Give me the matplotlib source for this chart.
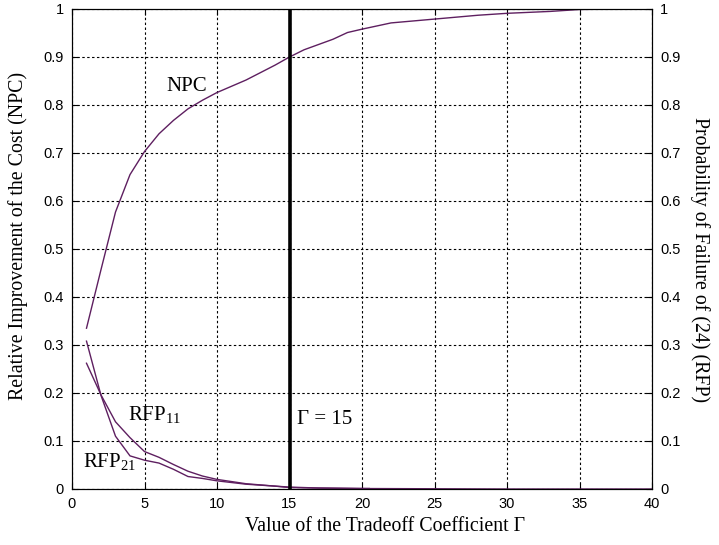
import numpy as np
import matplotlib
matplotlib.use('Agg')
import matplotlib.pyplot as plt

# values
gamma_npc = [1, 2, 3, 4, 5, 6, 7, 8, 9, 10, 12, 14, 15, 16, 18, 19, 20, 22, 25, 28, 30, 33, 35, 37.5, 40]
npc = [0.335, 0.457, 0.577, 0.655, 0.703, 0.740, 0.768, 0.792, 0.810, 0.826, 0.852, 0.883, 0.900,
       0.915, 0.937, 0.951, 0.958, 0.971, 0.979, 0.987, 0.991, 0.995, 0.999, 1.0, 1.0]

gamma_rfp11 = [1, 2, 3, 4, 5, 6, 7, 8, 9, 10, 12, 14, 15, 17, 20, 20.5]
rfp11 = [0.262, 0.196, 0.140, 0.107, 0.078, 0.066, 0.051, 0.037, 0.027, 0.020, 0.011, 0.006,
         0.004, 0.002, 0.001, 0.001]

gamma_rfp21 = [1, 2, 3, 4, 5, 6, 7, 8, 9, 10, 12, 14, 15, 17, 20, 25, 30, 35, 40]
rfp21 = [0.308, 0.195, 0.110, 0.069, 0.060, 0.054, 0.041, 0.026, 0.022, 0.017, 0.010, 0.006,
         0.003, 0.002, 0.001, 0.0005, 0.0, 0.0, 0.0]

gamma_mark = 15
xticks = [0, 5, 10, 15, 20, 25, 30, 35, 40]
yticks = [0, 0.1, 0.2, 0.3, 0.4, 0.5, 0.6, 0.7, 0.8, 0.9, 1]
ytick_labels = ['0', '0.1', '0.2', '0.3', '0.4', '0.5', '0.6', '0.7', '0.8', '0.9', '1']

line_col = '#5e1f60'
serif = 'Liberation Serif'
sans = 'Liberation Sans'

# subscripts in the labels should be serif too
plt.rcParams['mathtext.fontset'] = 'custom'
plt.rcParams['mathtext.rm'] = serif
plt.rcParams['mathtext.it'] = serif + ':italic'
plt.rcParams['mathtext.default'] = 'rm'

fig = plt.figure(figsize=(7.19, 5.45), dpi=100)
ax = fig.add_axes([72/719, 1 - 489/545, 580/719, 480/545])

ax.plot(gamma_npc, npc, color=line_col, lw=1)
ax.plot(gamma_rfp11, rfp11, color=line_col, lw=1)
ax.plot(gamma_rfp21, rfp21, color=line_col, lw=1)
ax.axvline(gamma_mark, color='k', lw=2.6, zorder=5)

ax.set_xlim(0, 40)
ax.set_ylim(0, 1)
ax.set_xticks(xticks)
ax.set_xticklabels([str(t) for t in xticks], fontfamily=sans, fontsize=10.5)
ax.set_yticks(yticks)
ax.set_yticklabels(ytick_labels, fontfamily=sans, fontsize=10.5)
ax.grid(True, color='k', linestyle=(0, (2.2, 2.2)), lw=0.8)
ax.tick_params(direction='in', length=4.5, width=0.8, top=True, pad=6)
for s in ax.spines.values():
    s.set_linewidth(0.8)

ax.set_xlabel('Value of the Tradeoff Coefficient \u0393', fontfamily=serif, fontsize=14.3)
ax.xaxis.set_label_coords(0.54, -0.0785)
ax.xaxis.label.set_va('center')
ax.set_ylabel('Relative Improvement of the Cost (NPC)', fontfamily=serif, fontsize=14.3)
ax.yaxis.set_label_coords(-0.093, 0.527)
ax.yaxis.label.set_va('center')

ax2 = ax.twinx()
ax2.set_ylim(0, 1)
ax2.set_yticks(yticks)
ax2.set_yticklabels(ytick_labels, fontfamily=sans, fontsize=10.5)
ax2.tick_params(direction='in', length=4.5, width=0.8, pad=6)
ax2.set_ylabel('Probability of Failure of (24) (RFP)', fontfamily=serif, fontsize=14.3, rotation=270)
ax2.yaxis.set_label_coords(1.083, 0.479)
ax2.yaxis.label.set_va('center')
for s in ax2.spines.values():
    s.set_linewidth(0.8)

ax.text(6.5, 0.838, 'NPC', fontfamily=serif, fontsize=15, va='center', ha='left')
ax.text(3.85, 0.155, r'RFP$_{11}$', fontfamily=serif, fontsize=15, va='center', ha='left')
ax.text(0.75, 0.058, r'RFP$_{21}$', fontfamily=serif, fontsize=15, va='center', ha='left')
ax.text(15.55, 0.144, '\u0393 = 15', fontfamily=serif, fontsize=15, va='center', ha='left')

fig.savefig('out.png', dpi=100)
